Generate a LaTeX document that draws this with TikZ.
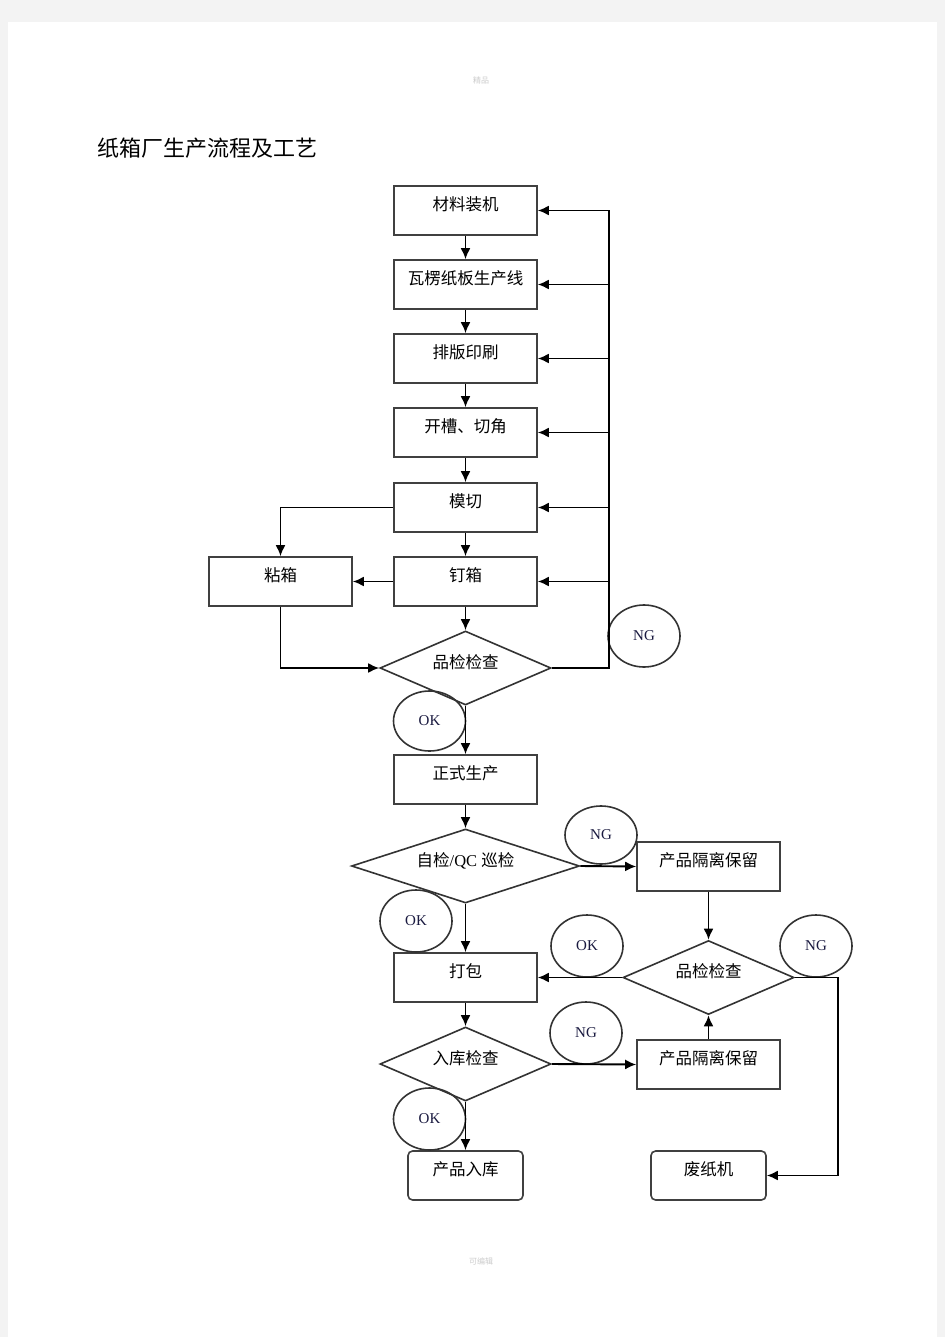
\documentclass[tikz,border=0pt]{standalone}
\usepackage{fontspec}
\setmainfont{Liberation Serif}
\newfontfamily\cjk{Noto Sans CJK SC}
\usetikzlibrary{shapes.geometric}
\usetikzlibrary{arrows.meta}
\usetikzlibrary{calc}
\definecolor{pagegray}{HTML}{F3F3F3}
\definecolor{marktext}{HTML}{1A1A40}
\tikzset{line/.style={draw, line width=1.9pt, -{Latex[length=11pt, width=10pt]}}}

\begin{document}
\begin{tikzpicture}[x=1pt, y=-1pt, line width=1.9pt,
				procbox/.style={draw=black!75, line width=1.6pt, rectangle, minimum width=143pt, minimum height=49pt, inner sep=0pt,
					text height=8pt, text depth=8pt, font=\cjk\fontsize{16.5pt}{18pt}\selectfont},
				endbox/.style={procbox, minimum width=115pt, rounded corners=1ex},
				checkbox/.style={draw=black!80, line width=1.6pt, diamond, shape aspect=2.3, minimum width=171pt, minimum height=74pt, inner sep=0pt,
					text height=8pt, text depth=8pt, font=\cjk\fontsize{16.5pt}{18pt}\selectfont},
				verdict/.style={draw=black!80, line width=1.6pt, ellipse, minimum width=72pt, minimum height=62pt, inner sep=0pt,
					text=marktext, font=\fontsize{15pt}{17pt}\selectfont},
				every text node part/.style={align=center}]
				% page
				\fill[pagegray] (0,0) rectangle (945,1337);
				\fill[white] (8,22) rectangle (937,1337);
				\useasboundingbox (0,0) rectangle (945,1337);
				
				\node[text=black!20, font=\cjk\fontsize{8pt}{9pt}\selectfont](header) at (481,80) {精品};
				\node[text=black!20, font=\cjk\fontsize{8pt}{9pt}\selectfont](footer) at (481,1261) {可编辑};
				\node[anchor=west, font=\cjk\fontsize{22pt}{24pt}\selectfont](title) at (93,148) {纸箱厂生产流程及工艺};
				
				% main line
				\node[procbox](load) at (465.5,210.5) {材料装机};
				\node[procbox](board) at (465.5,284.5) {瓦楞纸板生产线};
				\node[procbox](print) at (465.5,358.5) {排版印刷};
				\node[procbox](slot) at (465.5,432.5) {开槽、切角};
				\node[procbox](diecut) at (465.5,507.5) {模切};
				\node[procbox](nail) at (465.5,581.5) {钉箱};
				\node[procbox](glue) at (280.5,581.5) {粘箱};
				\node[checkbox](check1) at (465.5,668) {品检检查};
				\node[procbox](produce) at (465.5,779.5) {正式生产};
				\node[checkbox, minimum width=228pt](qc) at (465.5,866) {自检{\rmfamily/QC }巡检};
				\node[procbox](pack) at (465.5,977.5) {打包};
				\node[checkbox](stockcheck) at (465.5,1064) {入库检查};
				\node[endbox](stock) at (465.5,1175.5) {产品入库};
				
				% side line
				\node[procbox](hold1) at (708.5,866.5) {产品隔离保留};
				\node[checkbox](check2) at (708.5,977.5) {品检检查};
				\node[procbox](hold2) at (708.5,1064.5) {产品隔离保留};
				\node[endbox](waste) at (708.5,1175.5) {废纸机};
				
				% OK / NG marks
				\node[verdict](ng1) at (644,636) {NG};
				\node[verdict, minimum height=60pt](ok1) at (429.5,721) {OK};
				\node[verdict, minimum height=58pt](ng2) at (601,835) {NG};
				\node[verdict](ok2) at (416,921) {OK};
				\node[verdict](ok3) at (587,946) {OK};
				\node[verdict](ng3) at (816,946) {NG};
				\node[verdict](ng4) at (586,1033) {NG};
				\node[verdict](ok4) at (429.5,1119) {OK};
				
				\path[line] (load) -- (board);
				\path[line] (board) -- (print);
				\path[line] (print) -- (slot);
				\path[line] (slot) -- (diecut);
				\path[line] (diecut) -- (nail);
				\path[line] (nail) -- (check1);
				\path[line] (nail) -- (glue);
				\path[line] (diecut.west) -| (glue.north);
				\path[line] (glue.south) |- (check1.west);
				
				% NG feedback
				\draw (check1.east) -- ++(57,0) coordinate (back) -- (back |- load.east);
				\foreach \stage in {load, board, print, slot, diecut, nail}
					\path[line] (back |- \stage.east) -- (\stage.east);
				
				\path[line] (check1) -- (produce);
				\path[line] (produce) -- (qc);
				\path[line] (qc) -- (pack);
				\path[line] (qc.east) -- (hold1.west);
				\path[line] (hold1) -- (check2);
				\path[line] (check2.west) -- (pack.east);
				\path[line] (hold2) -- (check2);
				\path[line] (check2.east) -- ++(43,0) |- (waste.east);
				\path[line] (pack) -- (stockcheck);
				\path[line] (stockcheck.east) -- (hold2.west);
				\path[line] (stockcheck) -- (stock);
			\end{tikzpicture}
\end{document}
